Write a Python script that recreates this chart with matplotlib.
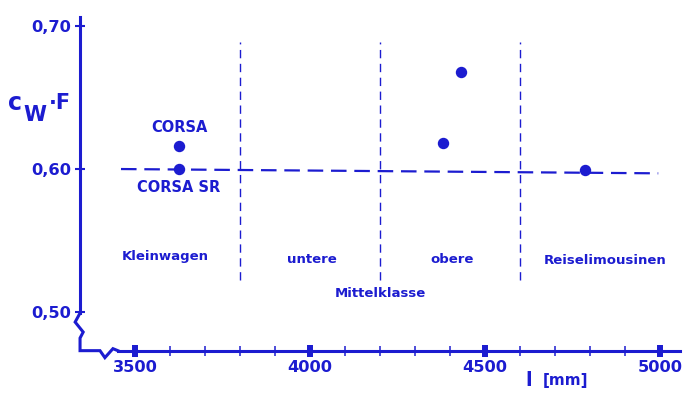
import matplotlib
matplotlib.use("Agg")
import matplotlib.pyplot as plt

# ---- data ----
car_x = [3626, 3626, 4380, 4431, 4786]
car_y = [0.616, 0.600, 0.618, 0.668, 0.599]
car_names = ["CORSA", "CORSA SR"]
ref_x = [3460, 4995]
ref_y = [0.600, 0.597]
class_bounds = [3800, 4200, 4600]
class_labels = ["Kleinwagen", "untere", "obere", "Reiselimousinen"]
class_label_x = [3586, 4006, 4406, 4843]
x_major = [3500, 4000, 4500, 5000]
x_major_labels = ["3500", "4000", "4500", "5000"]
x_minor = [v for v in range(3600, 5000, 100) if v % 500 != 0]
y_ticks = [0.50, 0.60, 0.70]
y_tick_labels = ["0,50", "0,60", "0,70"]

BLUE = "#1c1cd0"
plt.rcParams['font.family'] = ['DejaVu Sans']
plt.rcParams['font.weight'] = 'bold'

fig = plt.figure(figsize=(7, 4), dpi=100)
ax = fig.add_axes([0, 0, 1, 1])
ax.set_facecolor("white")
ax.set_xlim(3114.3, 5114.3)
ax.set_ylim(0.4385, 0.7182)

x_axis_pos = 3343
y_axis_pos = 0.473
ax.spines['top'].set_visible(False)
ax.spines['right'].set_visible(False)
ax.spines['left'].set_position(('data', x_axis_pos))
ax.spines['bottom'].set_position(('data', y_axis_pos))
ax.spines['left'].set_bounds(0.4993, 0.706)
ax.spines['bottom'].set_bounds(3451, 5057)
for s in ('left', 'bottom'):
    ax.spines[s].set_color(BLUE)
    ax.spines[s].set_linewidth(2.2)

# axis break zigzags (between spine ends and corner)
zx = [x_axis_pos, x_axis_pos - 14, x_axis_pos + 9, x_axis_pos, x_axis_pos,
      3400, 3414, 3437, 3451]
zy = [0.4993, 0.4930, 0.4860, 0.4818, y_axis_pos,
      y_axis_pos, 0.4681, 0.4744, y_axis_pos]
ax.plot(zx, zy, color=BLUE, lw=2.2, solid_joinstyle='miter', clip_on=False)

ax.set_xticks(x_major)
ax.set_xticklabels(x_major_labels)
ax.set_xticks(x_minor, minor=True)
ax.set_yticks(y_ticks)
ax.set_yticklabels(y_tick_labels)
ax.tick_params(axis='x', which='major', direction='inout', length=8, width=4.3,
               color=BLUE, labelcolor=BLUE, labelsize=11.7, pad=3)
ax.tick_params(axis='x', which='minor', direction='inout', length=7.5, width=1.1,
               color=BLUE)
ax.tick_params(axis='y', which='major', direction='inout', length=7.5, width=1.5,
               color=BLUE, labelcolor=BLUE, labelsize=11.7, pad=2.5)
for lab in ax.get_xticklabels() + ax.get_yticklabels():
    lab.set_fontweight('bold')

# class boundaries
ax.vlines(class_bounds, 0.5224, 0.6888, colors=BLUE, linewidth=1.0,
          linestyles=(0, (6, 4)))
# reference line
ax.plot(ref_x, ref_y, color=BLUE, lw=1.6, dashes=(7, 3.5))
# cars
ax.plot(car_x, car_y, 'o', color=BLUE, ms=7.2, mec=BLUE)

ax.text(car_x[0], 0.6287, car_names[0], color=BLUE, fontsize=10.5,
        fontweight='bold', ha='center', va='center')
ax.text(car_x[1], 0.5874, car_names[1], color=BLUE, fontsize=10.5,
        fontweight='bold', ha='center', va='center')

label_y = [0.5385, 0.5364, 0.5364, 0.5357]
for lx, ly, lt in zip(class_label_x, label_y, class_labels):
    ax.text(lx, ly, lt, color=BLUE, fontsize=9.5, fontweight='bold',
            ha='center', va='center')
ax.text(4200, 0.5133, "Mittelklasse", color=BLUE, fontsize=9.5,
        fontweight='bold', ha='center', va='center')

# y-axis title  c_W · F
T = ax.transAxes
ax.text(15 / 700, 1 - 103 / 400, "c", transform=T, color=BLUE, fontsize=17,
        fontweight='bold', ha='center', va='center')
ax.text(35 / 700, 1 - 115 / 400, "W", transform=T, color=BLUE, fontsize=15,
        fontweight='bold', ha='center', va='center')
ax.text(60 / 700, 1 - 103 / 400, "·F", transform=T, color=BLUE, fontsize=15,
        fontweight='bold', ha='center', va='center')

# x-axis title  l [mm]
ax.text(529 / 700, 1 - 380 / 400, "l", transform=T, color=BLUE, fontsize=14,
        fontweight='bold', ha='center', va='center')
ax.text(565 / 700, 1 - 381 / 400, "[mm]", transform=T, color=BLUE, fontsize=11,
        fontweight='bold', ha='center', va='center')

fig.savefig("out.png", dpi=100, facecolor="white")
